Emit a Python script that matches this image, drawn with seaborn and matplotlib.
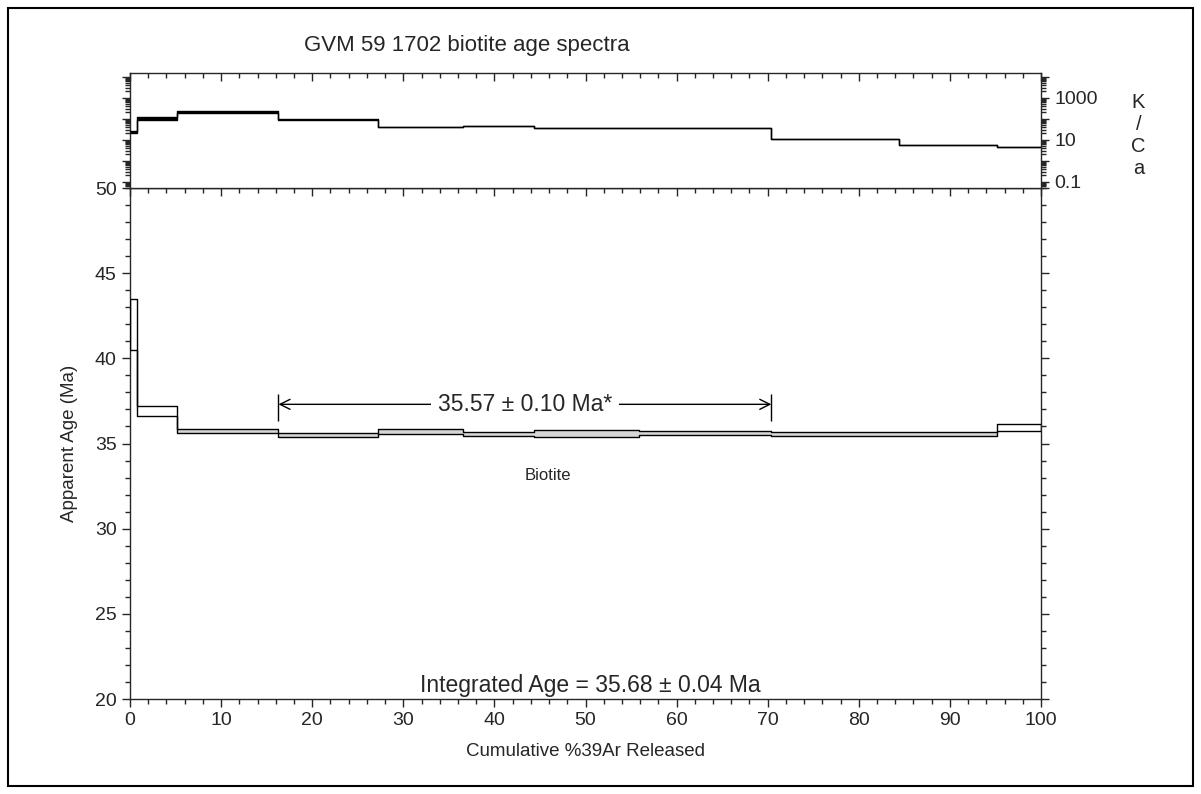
import numpy as np
import pandas as pd
import matplotlib
matplotlib.use("Agg")
import matplotlib.pyplot as plt
import seaborn as sns
from matplotlib.patches import Rectangle
from matplotlib.ticker import MultipleLocator, LogLocator, FixedLocator, FixedFormatter, NullFormatter

# ---------------- data ----------------
cum_edges = [0, 0.75, 5.2, 16.3, 27.2, 36.6, 44.3, 55.9, 70.4, 84.4, 95.2, 100]
ages = [42.0, 36.9, 35.72, 35.51, 35.68, 35.56, 35.59, 35.60, 35.55, 35.55, 35.94]
age_err = [1.5, 0.3, 0.12, 0.13, 0.15, 0.13, 0.20, 0.13, 0.12, 0.12, 0.22]
kca = [23, 105, 210, 90, 40, 44, 37, 37, 10.5, 5.5, 4.5]
kca_err_pct = [15, 15, 15, 6, 2, 2, 2, 2, 2, 2, 2]
plateau_steps = [3, 8]          # first step index, end edge index
plateau_label = "35.57 ± 0.10 Ma*"
integrated_label = "Integrated Age = 35.68 ± 0.04 Ma"
mineral_label = "Biotite"
title = "GVM 59 1702 biotite age spectra"
x_ticks = [0, 10, 20, 30, 40, 50, 60, 70, 80, 90, 100]
y_ticks = [20, 25, 30, 35, 40, 45, 50]
kca_ticks = [0.1, 1, 10, 100, 1000, 10000]
kca_tick_labels = ["0.1", "", "10", "", "1000", ""]

sns.set_style("ticks")
plt.rcParams['font.family'] = ['Liberation Sans', 'DejaVu Sans']
FS = 13.5
TFS = 14
NFS = 16.5

W, H = 1201, 794
fig = plt.figure(figsize=(W / 100, H / 100), dpi=100)

L, R = 130, 1041
ax = fig.add_axes([L / W, 1 - 699 / H, (R - L) / W, (699 - 188) / H])
axk = fig.add_axes([L / W, 1 - 188 / H, (R - L) / W, (188 - 73) / H])

edges = np.array(cum_edges)
ages_a = np.array(ages)
err_a = np.array(age_err)
upper = ages_a + err_a
lower = ages_a - err_a
widths = np.diff(edges)

# light fill for thin plateau-type boxes
fill_idx = list(range(2, 10))
ax.bar(edges[:-1][fill_idx], (upper - lower)[fill_idx], width=widths[fill_idx],
       bottom=lower[fill_idx], align='edge', color='#d6d6d6', linewidth=0, zorder=1)

for arr in (upper, lower):
    df = pd.DataFrame({'x': edges, 'y': np.append(arr, arr[-1])})
    sns.lineplot(data=df, x='x', y='y', drawstyle='steps-post', color='black',
                 linewidth=1.0, estimator=None, sort=False, ax=ax, zorder=3)
ax.vlines([edges[0]], lower[0], upper[0], color='black', lw=1.0, zorder=3)
ax.vlines([edges[-1]], lower[-1], upper[-1], color='black', lw=1.0, zorder=3)

# plateau arrow
p0 = edges[plateau_steps[0]]
p1 = edges[plateau_steps[1]]
arrow_y = 37.3
ax.annotate('', xy=(p0, arrow_y), xytext=(p1, arrow_y),
            arrowprops=dict(arrowstyle='<->', lw=1.0, color='black',
                            shrinkA=0, shrinkB=0, mutation_scale=18))
ax.vlines([p0, p1], arrow_y - 1.0, arrow_y + 0.6, color='black', lw=1.0)
ax.text((p0 + p1) / 2, arrow_y, plateau_label, ha='center', va='center', fontsize=NFS,
        bbox=dict(facecolor='white', edgecolor='none', pad=5), zorder=5)
ax.text(45.9, 33.1, mineral_label, ha='center', va='center', fontsize=12)
ax.text(50.5, 20.8, integrated_label, ha='center', va='center', fontsize=NFS)

ax.set_xlim(0, 100)
ax.set_ylim(20, 50)
ax.set_xticks(x_ticks)
ax.set_yticks(y_ticks)
ax.xaxis.set_minor_locator(MultipleLocator(2))
ax.yaxis.set_minor_locator(MultipleLocator(1))
ax.tick_params(axis='x', which='both', bottom=True, top=False, direction='out',
               labelsize=TFS, width=1.0)
ax.tick_params(axis='y', which='both', left=True, right=True, labelright=False,
               direction='out', labelsize=TFS, width=1.0)
ax.tick_params(which='major', length=6)
ax.tick_params(which='minor', length=3.5)
ax.set_xlabel("Cumulative %39Ar Released", fontsize=FS, labelpad=10)
ax.set_ylabel("Apparent Age (Ma)", fontsize=FS, labelpad=12)
sec = ax.secondary_xaxis('top')
sec.xaxis.set_major_locator(MultipleLocator(10))
sec.xaxis.set_minor_locator(MultipleLocator(2))
sec.tick_params(which='both', direction='in', labeltop=False, width=1.0)
sec.tick_params(which='major', length=6)
sec.tick_params(which='minor', length=3.5)
for s in ax.spines.values():
    s.set_visible(True)
    s.set_linewidth(1.0)

# ---------------- K/Ca panel ----------------
kc = np.array(kca, dtype=float)
ke = 1 + np.array(kca_err_pct) / 100.0
k_up = kc * ke
k_lo = kc / ke
axk.set_yscale('log')
axk.bar(edges[:-1], k_up - k_lo, width=widths, bottom=k_lo, align='edge',
        color='black', linewidth=0, zorder=1)
for arr in (k_up, k_lo):
    df = pd.DataFrame({'x': edges, 'y': np.append(arr, arr[-1])})
    sns.lineplot(data=df, x='x', y='y', drawstyle='steps-post', color='black',
                 linewidth=1.0, estimator=None, sort=False, ax=axk, zorder=3)
axk.set_xlim(0, 100)
axk.set_ylim(0.05, 15000)
axk.set_xlabel('')
axk.set_ylabel('')
axk.xaxis.set_major_locator(MultipleLocator(10))
axk.xaxis.set_minor_locator(MultipleLocator(2))
axk.tick_params(axis='x', which='both', top=True, bottom=False, labelbottom=False,
                labeltop=False, direction='in', width=1.0)
axk.yaxis.set_major_locator(FixedLocator(kca_ticks))
axk.yaxis.set_major_formatter(FixedFormatter(kca_tick_labels))
axk.yaxis.set_minor_locator(LogLocator(base=10, subs=np.arange(2, 10), numticks=20))
axk.yaxis.set_minor_formatter(NullFormatter())
axk.tick_params(axis='y', which='both', left=True, right=True, labelleft=False,
                labelright=True, direction='out', labelsize=TFS, width=1.0)
axk.tick_params(which='major', length=6)
axk.tick_params(which='minor', length=3.5)
for s in axk.spines.values():
    s.set_visible(True)
    s.set_linewidth(1.0)
axk.text(1.107, 0.46, "K\n/\nC\na", transform=axk.transAxes, ha='center', va='center',
         fontsize=14.5, linespacing=1.2)

fig.text(467 / W, 1 - 46 / H, title, ha='center', va='center', fontsize=16)
fig.patches.append(Rectangle((8 / W, 8 / H), 1185 / W, 778 / H, transform=fig.transFigure,
                             fill=False, edgecolor='black', linewidth=1.5))

fig.savefig("out.png", dpi=100)
